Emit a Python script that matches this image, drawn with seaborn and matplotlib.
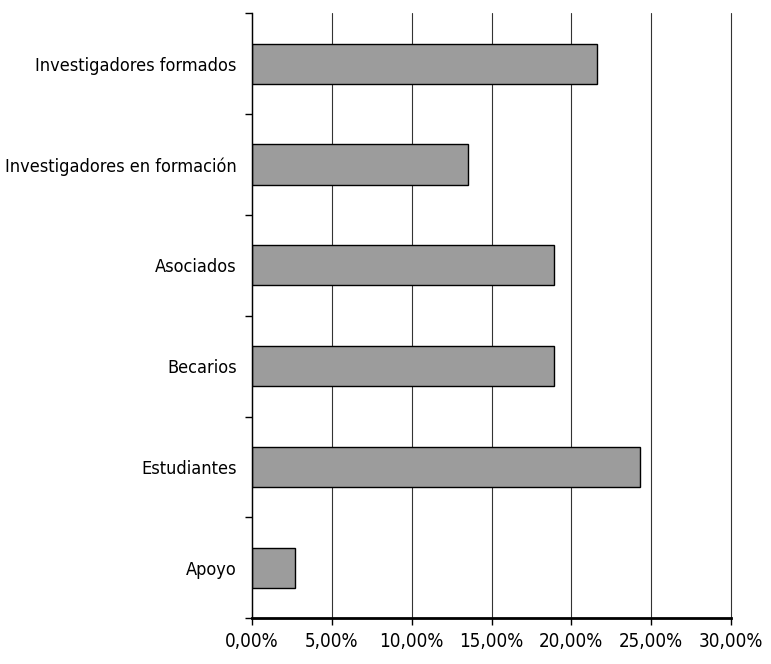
import pandas as pd
import matplotlib
matplotlib.use("Agg")
import matplotlib.pyplot as plt
import seaborn as sns
from matplotlib.ticker import FuncFormatter, MultipleLocator

# categories, top to bottom
categorias = ['Investigadores formados', 'Investigadores en formación', 'Asociados',
              'Becarios', 'Estudiantes', 'Apoyo']
# share in percent
porcentajes = [21.6, 13.5, 18.9, 18.9, 24.3, 2.7]

df = pd.DataFrame({'categoria': categorias, 'porcentaje': porcentajes})

sns.set_style("white")
plt.rcParams['font.family'] = ['DejaVu Sans']
plt.rcParams['font.stretch'] = 'condensed'

fig = plt.figure(figsize=(7.71, 6.64), dpi=100)
ax = fig.add_axes([0.327, 0.069, 0.621, 0.911])

sns.barplot(data=df, x='porcentaje', y='categoria', orient='h', width=0.4,
            color='#9c9c9c', edgecolor='black', linewidth=1.0, saturation=1, ax=ax)

ax.set_xlim(0, 30)
ax.set_ylim(5.5, -0.5)
ax.xaxis.set_major_locator(MultipleLocator(5))
ax.xaxis.set_major_formatter(FuncFormatter(lambda v, p: f'{v:.2f}'.replace('.', ',') + '%'))
ax.grid(axis='x', color='#333333', linewidth=0.8)
for gl in ax.get_xgridlines():
    gl.set_clip_on(False)
ax.set_axisbelow(True)

# ticks on the left spine between categories
ax.set_yticks([i - 0.5 for i in range(len(categorias) + 1)], minor=True)
ax.tick_params(axis='y', which='minor', length=5, width=1, color='black', direction='out', left=True)
ax.tick_params(axis='y', which='major', length=0, pad=11, labelsize=13, labelcolor='black')
ax.tick_params(axis='x', which='major', length=5, width=1, color='black', direction='out',
               bottom=True, pad=5, labelsize=13.5, labelcolor='black')

for s in ['top', 'right']:
    ax.spines[s].set_visible(False)
ax.spines['left'].set_color('black')
ax.spines['left'].set_linewidth(1)
ax.spines['bottom'].set_color('black')
ax.spines['bottom'].set_linewidth(2)

ax.set_xlabel('')
ax.set_ylabel('')

fig.savefig('out.png', dpi=100)
